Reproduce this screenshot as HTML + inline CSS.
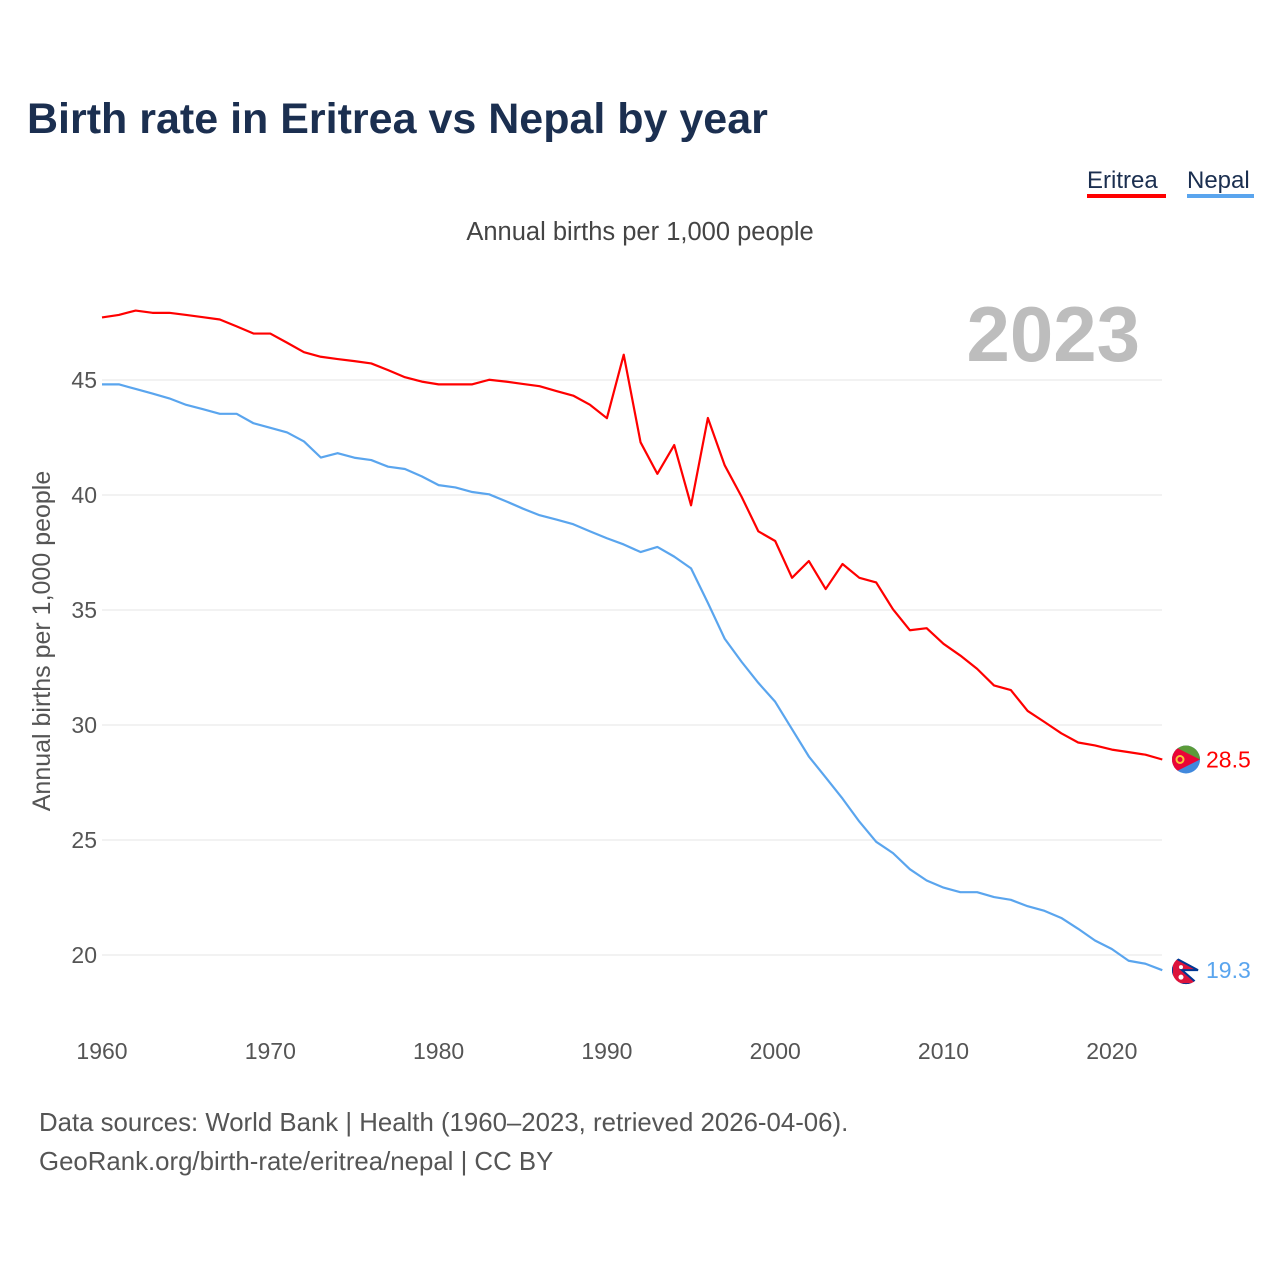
<!DOCTYPE html>
<html><head><meta charset="utf-8"><style>
body{margin:0;background:#fff;font-family:"Liberation Sans",sans-serif}
#wrap{position:relative;width:1280px;height:1280px;overflow:hidden}
</style></head><body>
<div id="wrap">
<svg id="chart" width="1280" height="1280"></svg>
</div>
<script>
const years=[];for(let y=1960;y<=2023;y++)years.push(y);
const eritrea=[47.72,47.83,48.02,47.92,47.92,47.83,47.73,47.63,47.33,47.02,47.02,46.62,46.21,46.01,45.91,45.82,45.72,45.43,45.12,44.93,44.81,44.81,44.81,45.01,44.93,44.83,44.73,44.52,44.32,43.92,43.34,46.1,42.29,40.92,42.17,39.55,43.35,41.29,39.93,38.42,38.0,36.4,37.13,35.91,37.0,36.4,36.2,35.03,34.12,34.21,33.53,33.02,32.44,31.72,31.52,30.61,30.13,29.64,29.24,29.11,28.93,28.82,28.71,28.5];
const nepal=[44.81,44.81,44.61,44.41,44.2,43.92,43.73,43.53,43.53,43.12,42.92,42.72,42.33,41.63,41.82,41.62,41.52,41.23,41.13,40.81,40.43,40.33,40.13,40.03,39.73,39.41,39.12,38.93,38.73,38.42,38.12,37.85,37.52,37.74,37.32,36.81,35.31,33.75,32.75,31.83,31.01,29.82,28.63,27.72,26.8,25.8,24.92,24.43,23.73,23.24,22.93,22.73,22.73,22.52,22.4,22.12,21.92,21.61,21.14,20.63,20.26,19.75,19.62,19.34];
const yTicks=[20,25,30,35,40,45];
const xTicks=[1960,1970,1980,1990,2000,2010,2020];
const X=y=>102+(y-1960)*16.83;
const Y=v=>380-(v-45)*23;
const NS="http://www.w3.org/2000/svg";
const svg=document.getElementById('chart');
function mk(tag,attrs,parent){const e=document.createElementNS(NS,tag);for(const k in attrs)e.setAttribute(k,attrs[k]);(parent||svg).appendChild(e);return e;}
function txt(s,attrs){const e=mk('text',Object.assign({'font-family':'Liberation Sans, sans-serif'},attrs));e.textContent=s;return e;}
let t=txt('Birth rate in Eritrea vs Nepal by year',{x:27,y:133,'font-size':43,'font-weight':'bold',fill:'#1b2f50'});


t=txt('Eritrea',{x:1087,y:188,'font-size':24,fill:'#1b2f50'});


let r=mk('rect',{x:1087,y:194,width:79,height:4,fill:'#ff0000'});


t=txt('Nepal',{x:1187,y:188,'font-size':24,fill:'#1b2f50'});


r=mk('rect',{x:1187,y:194,width:67,height:4,fill:'#5aa5ee'});


t=txt('Annual births per 1,000 people',{x:640,y:240,'font-size':25.5,fill:'#444','text-anchor':'middle'});


t=txt('2023',{x:1140,y:361,'font-size':78,'font-weight':'bold',fill:'#bdbdbd','text-anchor':'end'});


yTicks.forEach(v=>{
 const g=mk('line',{x1:102,x2:1162,y1:Y(v),y2:Y(v),stroke:'#e6e6e6','stroke-width':1});
 
 
 const l=txt(String(v),{x:97,y:Y(v)+8,'font-size':23,fill:'#555','text-anchor':'end'});
 
 
});
xTicks.forEach(v=>{
 const l=txt(String(v),{x:X(v),y:1059,'font-size':23,fill:'#555','text-anchor':'middle'});
 
 
});
t=txt('Annual births per 1,000 people',{x:0,y:0,'font-size':25,fill:'#555','text-anchor':'middle',transform:'translate(50,641) rotate(-90)'});


function line(data,color,name){
 const p=mk('polyline',{points:data.map((v,i)=>X(years[i])+','+Y(v)).join(' '),fill:'none',stroke:color,'stroke-width':2.2,'stroke-linejoin':'round'});
 
 
}
line(nepal,'#5aa5ee','nepal-line');
line(eritrea,'#ff0000','eritrea-line');
const eLast=eritrea[eritrea.length-1], nLast=nepal[nepal.length-1];
const defs=mk('defs',{});
mk('circle',{cx:1186,cy:Y(eLast),r:14},mk('clipPath',{id:'ce'},defs));
mk('circle',{cx:1186,cy:Y(nLast),r:14},mk('clipPath',{id:'cn'},defs));
const ge=mk('g',{'clip-path':'url(#ce)'});


mk('rect',{x:1172,y:Y(eLast)-14,width:28,height:28,fill:'#4189dd'},ge);
mk('rect',{x:1172,y:Y(eLast)-14,width:28,height:14,fill:'#5b9b3a'},ge);
mk('path',{d:`M1172 ${Y(eLast)-14} L1200 ${Y(eLast)} L1172 ${Y(eLast)+14} Z`,fill:'#ea0437'},ge);
mk('circle',{cx:1180,cy:Y(eLast),r:3.5,fill:'none',stroke:'#f8c23b','stroke-width':2},ge);
const gn=mk('g',{'clip-path':'url(#cn)'});


mk('rect',{x:1172,y:Y(nLast)-14,width:28,height:28,fill:'#ffffff'},gn);
mk('path',{d:`M1172 ${Y(nLast)-14} L1198 ${Y(nLast)} L1182 ${Y(nLast)} L1198 ${Y(nLast)+14} L1172 ${Y(nLast)+14} Z`,fill:'#dc143c',stroke:'#003893','stroke-width':2},gn);
mk('circle',{cx:1181,cy:Y(nLast)-3,r:2,fill:'#fff'},gn);
mk('circle',{cx:1181,cy:Y(nLast)+7,r:2.5,fill:'#fff'},gn);
t=txt(eLast.toFixed(1),{x:1206,y:Y(eLast)+8,'font-size':23,fill:'#ff0000'});


t=txt(nLast.toFixed(1),{x:1206,y:Y(nLast)+8,'font-size':23,fill:'#5aa5ee'});


t=txt('Data sources: World Bank | Health (1960–2023, retrieved 2026-04-06).',{x:39,y:1131,'font-size':25.8,fill:'#555'});


t=txt('GeoRank.org/birth-rate/eritrea/nepal | CC BY',{x:39,y:1170,'font-size':25.8,fill:'#555'});


</script>
</body></html>
